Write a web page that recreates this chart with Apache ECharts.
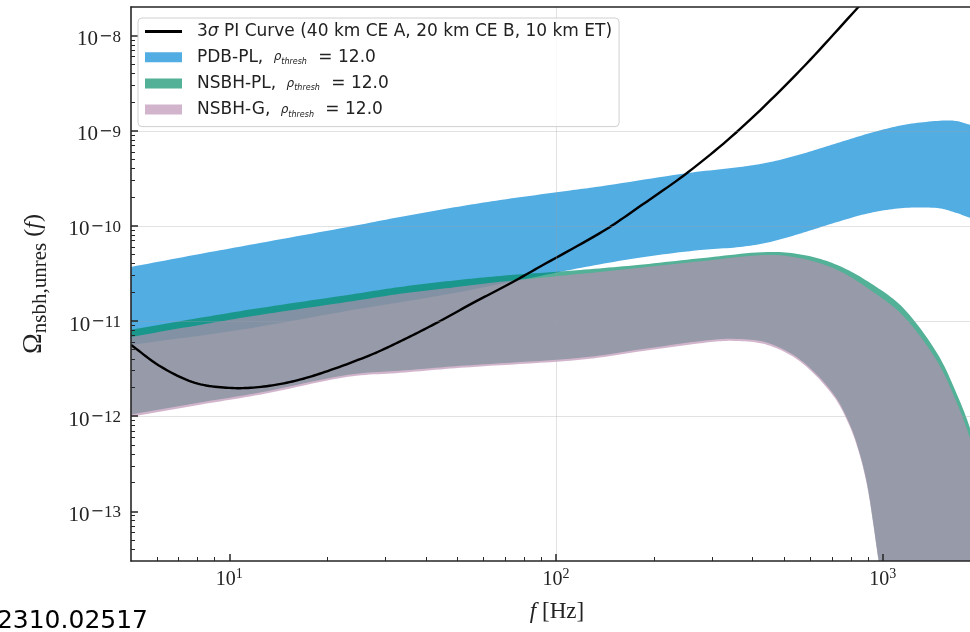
<!DOCTYPE html>
<html>
<head>
<meta charset="utf-8">
<script src="https://cdn.jsdelivr.net/npm/echarts@6.0.0/dist/echarts.min.js"></script>
<style>
html, body { margin: 0; padding: 0; background: #fff; }
#main { width: 970px; height: 632px; }
</style>
</head>
<body>
<div id="main"></div>
<script>
// 3 sigma PI curve
var piFreq  = [5, 6.18, 7.85, 10, 12.5, 15.9, 20, 27.5, 35, 44.2, 55.7, 70.9, 89.5, 139.6, 177.5, 254, 366, 560, 837, 985];
var piOmega = [5.61e-12, 3.3e-12, 2.24e-12, 1.98e-12, 2.03e-12, 2.35e-12, 2.98e-12, 4.5e-12, 6.63e-12, 1.0e-11,
               1.55e-11, 2.39e-11, 3.74e-11, 8.83e-11, 1.54e-10, 3.68e-10, 1.044e-9, 4.35e-9, 1.95e-8, 3.6e-8];

// PDB-PL band
var pdbUpFreq  = [5, 8.13, 12.4, 23.1, 33.3, 47.4, 67.5, 110.5, 136.5, 254, 366, 453, 572, 726, 916, 1156, 1471, 1670, 1856, 2000];
var pdbUpper   = [3.7e-11, 5.07e-11, 6.6e-11, 9.75e-11, 1.24e-10, 1.54e-10, 1.87e-10, 2.36e-10, 2.6e-10, 3.6e-10,
                  4.16e-10, 4.69e-10, 5.77e-10, 7.43e-10, 9.46e-10, 1.15e-9, 1.27e-9, 1.27e-9, 1.15e-9, 1.06e-9];
var pdbLowFreq = [5, 10.8, 23.1, 47.4, 89.5, 118.6, 177.5, 276.5, 366, 453, 572, 726, 916, 1156, 1471, 1647, 1856, 2000];
var pdbLower   = [5.61e-12, 8.07e-12, 1.28e-11, 1.93e-11, 2.98e-11, 3.61e-11, 4.6e-11, 5.58e-11, 6.0e-11,
                  6.78e-11, 8.51e-11, 1.1e-10, 1.37e-10, 1.54e-10, 1.54e-10, 1.4e-10, 1.21e-10, 1.1e-10];

// NSBH bands, upper edges
var nsbhUpFreq = [5, 8.13, 12.4, 23.1, 33.3, 47.4, 67.5, 118.6, 177.5, 282.6, 443.6, 572, 726, 916, 1156, 1471, 1694, 1856, 2000];
var plUpper    = [8.07e-12, 1.08e-11, 1.37e-11, 1.88e-11, 2.28e-11, 2.64e-11, 2.98e-11, 3.44e-11, 3.88e-11, 4.6e-11,
                  5.32e-11, 4.95e-11, 3.88e-11, 2.51e-11, 1.37e-11, 4.52e-12, 1.64e-12, 7.2e-13, 2.7e-13];
var gUpper     = [6.81e-12, 9.1e-12, 1.16e-11, 1.59e-11, 1.93e-11, 2.23e-11, 2.58e-11, 3.13e-11, 3.61e-11, 4.28e-11,
                  4.95e-11, 4.5e-11, 3.44e-11, 2.12e-11, 1.13e-11, 3.72e-12, 1.32e-12, 5.6e-13, 1.9e-13];
// NSBH bands, lower edges
var nsbhLowFreq = [5, 8.13, 12.4, 23.1, 33.3, 50.9, 118.6, 177.5, 282.6, 349, 443.6, 560, 706, 796, 855, 898, 936, 970, 1019, 1100, 2000];
var plLower     = [1.04e-12, 1.39e-12, 1.77e-12, 2.72e-12, 3.0e-12, 3.38e-12, 4.1e-12, 4.98e-12, 6.2e-12, 6.5e-12, 5.9e-12,
                   3.9e-12, 1.72e-12, 7.9e-13, 3.8e-13, 1.85e-13, 7.5e-14, 3.2e-14, 1.25e-14, 3.1e-15, 1e-16];
var gLower      = [9.84e-13, 1.32e-12, 1.68e-12, 2.59e-12, 2.85e-12, 3.22e-12, 3.91e-12, 4.74e-12, 5.89e-12, 6.18e-12, 5.61e-12,
                   3.72e-12, 1.63e-12, 7.53e-13, 3.65e-13, 1.77e-13, 7.21e-14, 3.09e-14, 1.2e-14, 3e-15, 1e-16];

// axis ranges and ticks
var xMin = 5, xMax = 1850;
var yMin = 3e-14, yMax = 2e-8;
var xMajor = [10, 100, 1000];
var yMajor = [1e-13, 1e-12, 1e-11, 1e-10, 1e-9, 1e-8];
var xMinor = [];
var yMinor = [];
for (var d = 1; d <= 1000; d *= 10) {
    for (var m = 2; m <= 9; m++) {
        if (m * d > xMin && m * d < xMax) xMinor.push(m * d);
    }
}
for (var e = -14; e <= -9; e++) {
    for (var m = 2; m <= 9; m++) {
        var v = m * Math.pow(10, e);
        if (v > yMin && v < yMax) yMinor.push(v);
    }
}

var colBlue = '#52ade3';
var colTeal = 'rgba(0,140,100,0.68)';
var colPink = 'rgba(187,142,177,0.66)';
var axisCol = '#262626';
var gridCol = 'rgba(160,160,170,0.3)';
var serif = 'Liberation Serif';

function dist(a, b) {
    return Math.sqrt((a[0] - b[0]) * (a[0] - b[0]) + (a[1] - b[1]) * (a[1] - b[1]));
}

// smooth a run of pixel points (catmull-rom like, chord weighted)
function smoothEdge(pts) {
    var out = [pts[0]];
    for (var i = 0; i < pts.length - 1; i++) {
        var p0 = pts[i - 1] || pts[i], p1 = pts[i], p2 = pts[i + 1], p3 = pts[i + 2] || pts[i + 1];
        var d01 = dist(p0, p1), d12 = dist(p1, p2), d23 = dist(p2, p3);
        var k1 = d12 / ((d01 + d12) || 1) / 3, k2 = d12 / ((d12 + d23) || 1) / 3;
        var c1 = [p1[0] + (p2[0] - p0[0]) * k1, p1[1] + (p2[1] - p0[1]) * k1];
        var c2 = [p2[0] - (p3[0] - p1[0]) * k2, p2[1] - (p3[1] - p1[1]) * k2];
        for (var s = 1; s <= 12; s++) {
            var t = s / 12, u = 1 - t;
            out.push([
                u * u * u * p1[0] + 3 * u * u * t * c1[0] + 3 * u * t * t * c2[0] + t * t * t * p2[0],
                u * u * u * p1[1] + 3 * u * u * t * c1[1] + 3 * u * t * t * c2[1] + t * t * t * p2[1]
            ]);
        }
    }
    return out;
}

function bandSeries(name, color, fu, hi, fl, lo, z) {
    return {
        name: name,
        type: 'custom',
        z: z,
        clip: true,
        silent: true,
        itemStyle: { color: color },
        data: [[fu[0], hi[0]]],
        renderItem: function (params, api) {
            var top = fu.map(function (f, i) { return api.coord([f, hi[i]]); });
            var bot = fl.map(function (f, i) { return api.coord([f, lo[i]]); });
            var pts = smoothEdge(top).concat(smoothEdge(bot).reverse());
            return { type: 'polygon', shape: { points: pts }, style: { fill: color } };
        }
    };
}

function curveSeries(name, color, fx, fy, z) {
    return {
        name: name,
        type: 'custom',
        z: z,
        clip: true,
        silent: true,
        itemStyle: { color: color },
        data: [[fx[0], fy[0]]],
        renderItem: function (params, api) {
            var pts = fx.map(function (f, i) { return api.coord([f, fy[i]]); });
            return { type: 'polyline', shape: { points: smoothEdge(pts) }, style: { stroke: color, lineWidth: 2.4, fill: 'none' } };
        }
    };
}

var legendText = {
    'PI': '{a|3}{g|σ}{t| PI Curve (40 km CE A, 20 km CE B, 10 km ET)}',
    'PDB-PL': '{a|PDB-PL, }{r|ρ}{sb|thresh}{t| = 12.0}',
    'NSBH-PL': '{a|NSBH-PL, }{r|ρ}{sb|thresh}{t| = 12.0}',
    'NSBH-G': '{a|NSBH-G, }{r|ρ}{sb|thresh}{t| = 12.0}'
};

var myChart = echarts.init(document.getElementById('main'));

var option = {
    animation: false,
    backgroundColor: '#fff',
    grid: { left: 131, right: 0, top: 7, bottom: 71 },
    legend: {
        orient: 'vertical',
        left: 138,
        top: 18,
        itemWidth: 37,
        itemHeight: 10,
        itemGap: 8.7,
        padding: [5, 7, 8, 7],
        backgroundColor: 'rgba(255,255,255,0.8)',
        borderColor: '#d0d0d0',
        borderWidth: 1,
        borderRadius: 4,
        selectedMode: false,
        z: 10,
        data: [
            { name: 'PI', icon: 'path://M0,0H40V3H0Z', itemStyle: { color: '#000' } },
            { name: 'PDB-PL', icon: 'rect' },
            { name: 'NSBH-PL', icon: 'rect' },
            { name: 'NSBH-G', icon: 'rect' }
        ],
        formatter: function (name) { return legendText[name]; },
        textStyle: {
            fontFamily: 'DejaVu Sans', fontSize: 17, color: '#222',
            rich: {
                a: { fontFamily: 'DejaVu Sans', fontSize: 17, lineHeight: 18, color: '#222', padding: [0, 0, 0, 10] },
                t: { fontFamily: 'DejaVu Sans', fontSize: 17, lineHeight: 18, color: '#222' },
                g: { fontFamily: 'DejaVu Sans', fontStyle: 'italic', fontSize: 17, lineHeight: 18, color: '#222' },
                r: { fontFamily: 'DejaVu Sans', fontStyle: 'italic', fontSize: 12, lineHeight: 18, color: '#222', padding: [0, 0, 0, 5] },
                sb: { fontFamily: 'DejaVu Sans', fontStyle: 'italic', fontSize: 8, lineHeight: 12, color: '#222', verticalAlign: 'bottom', padding: [0, 6, 0, 0] }
            }
        }
    },
    xAxis: [
        {
            type: 'log', min: xMin, max: xMax, position: 'bottom', z: 5,
            axisLine: { show: true, onZero: false, lineStyle: { color: axisCol, width: 1.6 } },
            axisTick: { show: true, inside: true, length: 7, customValues: xMajor, lineStyle: { color: axisCol, width: 1.5 } },
            axisLabel: {
                customValues: xMajor, margin: 6,
                formatter: function (v) { return '{b|10}{s|' + Math.round(Math.log10(v)) + '}'; },
                rich: {
                    b: { fontFamily: serif, fontSize: 20, lineHeight: 26, color: '#222' },
                    s: { fontFamily: serif, fontSize: 14, lineHeight: 14, color: '#222', verticalAlign: 'top' }
                }
            },
            splitLine: { show: true, showMinLine: false, showMaxLine: false, lineStyle: { color: gridCol, width: 1 } },
            name: '{i|f}{r| [Hz]}', nameLocation: 'middle', nameGap: 39,
            nameTextStyle: {
                padding: [0, 0, 0, 13],
                rich: {
                    i: { fontFamily: serif, fontStyle: 'italic', fontSize: 23, color: '#222' },
                    r: { fontFamily: serif, fontSize: 23, color: '#222' }
                }
            }
        },
        {
            type: 'log', min: xMin, max: xMax, position: 'bottom', z: 5,
            axisLine: { show: false },
            axisTick: { show: true, inside: true, length: 4, customValues: xMinor, lineStyle: { color: axisCol, width: 1 } },
            axisLabel: { show: false },
            splitLine: { show: false }
        },
        {
            type: 'log', min: xMin, max: xMax, position: 'top', z: 5,
            axisLine: { show: true, onZero: false, lineStyle: { color: axisCol, width: 1.6 } },
            axisTick: { show: false },
            axisLabel: { show: false },
            splitLine: { show: false }
        }
    ],
    yAxis: [
        {
            type: 'log', min: yMin, max: yMax, position: 'left', z: 5,
            axisLine: { show: true, onZero: false, lineStyle: { color: axisCol, width: 1.6 } },
            axisTick: { show: true, inside: true, length: 7, customValues: yMajor, lineStyle: { color: axisCol, width: 1.5 } },
            axisLabel: {
                customValues: yMajor, margin: 10,
                formatter: function (v) { return '{b|10}{m|−}{s|' + (-Math.round(Math.log10(v))) + '}'; },
                rich: {
                    b: { fontFamily: serif, fontSize: 21, lineHeight: 26, color: '#222', padding: [8, 0, 0, 0] },
                    m: { fontFamily: 'DejaVu Serif', fontSize: 16, lineHeight: 16, color: '#222', verticalAlign: 'top', padding: [6, 0, 0, 1] },
                    s: { fontFamily: serif, fontSize: 17, lineHeight: 16, color: '#222', verticalAlign: 'top', padding: [6, 0, 0, 0] }
                }
            },
            splitLine: { show: true, showMinLine: false, showMaxLine: false, lineStyle: { color: gridCol, width: 1 } },
            name: '{o|Ω}{s|nsbh,unres}{p|(}{i|f}{p|)}', nameLocation: 'middle', nameGap: 80, nameRotate: 90,
            nameTextStyle: {
                rich: {
                    o: { fontFamily: serif, fontSize: 28, lineHeight: 34, color: '#222' },
                    s: { fontFamily: serif, fontSize: 21, lineHeight: 22, color: '#222', verticalAlign: 'bottom', padding: [0, 6, 0, 0] },
                    p: { fontFamily: serif, fontSize: 24, lineHeight: 34, color: '#222' },
                    i: { fontFamily: serif, fontStyle: 'italic', fontSize: 24, lineHeight: 34, color: '#222' }
                }
            }
        },
        {
            type: 'log', min: yMin, max: yMax, position: 'left', z: 5,
            axisLine: { show: false },
            axisTick: { show: true, inside: true, length: 4, customValues: yMinor, lineStyle: { color: axisCol, width: 1 } },
            axisLabel: { show: false },
            splitLine: { show: false }
        }
    ],
    graphic: [
        {
            type: 'text', x: 148, y: 621, z: 20,
            style: { text: '2310.02517', fill: '#000', font: '25px "DejaVu Sans"', align: 'right', verticalAlign: 'middle' }
        }
    ],
    series: [
        bandSeries('PDB-PL', colBlue, pdbUpFreq, pdbUpper, pdbLowFreq, pdbLower, 1),
        bandSeries('NSBH-PL', colTeal, nsbhUpFreq, plUpper, nsbhLowFreq, plLower, 2),
        bandSeries('NSBH-G', colPink, nsbhUpFreq, gUpper, nsbhLowFreq, gLower, 3),
        curveSeries('PI', '#000', piFreq, piOmega, 4)
    ]
};

myChart.setOption(option);
</script>
</body>
</html>
